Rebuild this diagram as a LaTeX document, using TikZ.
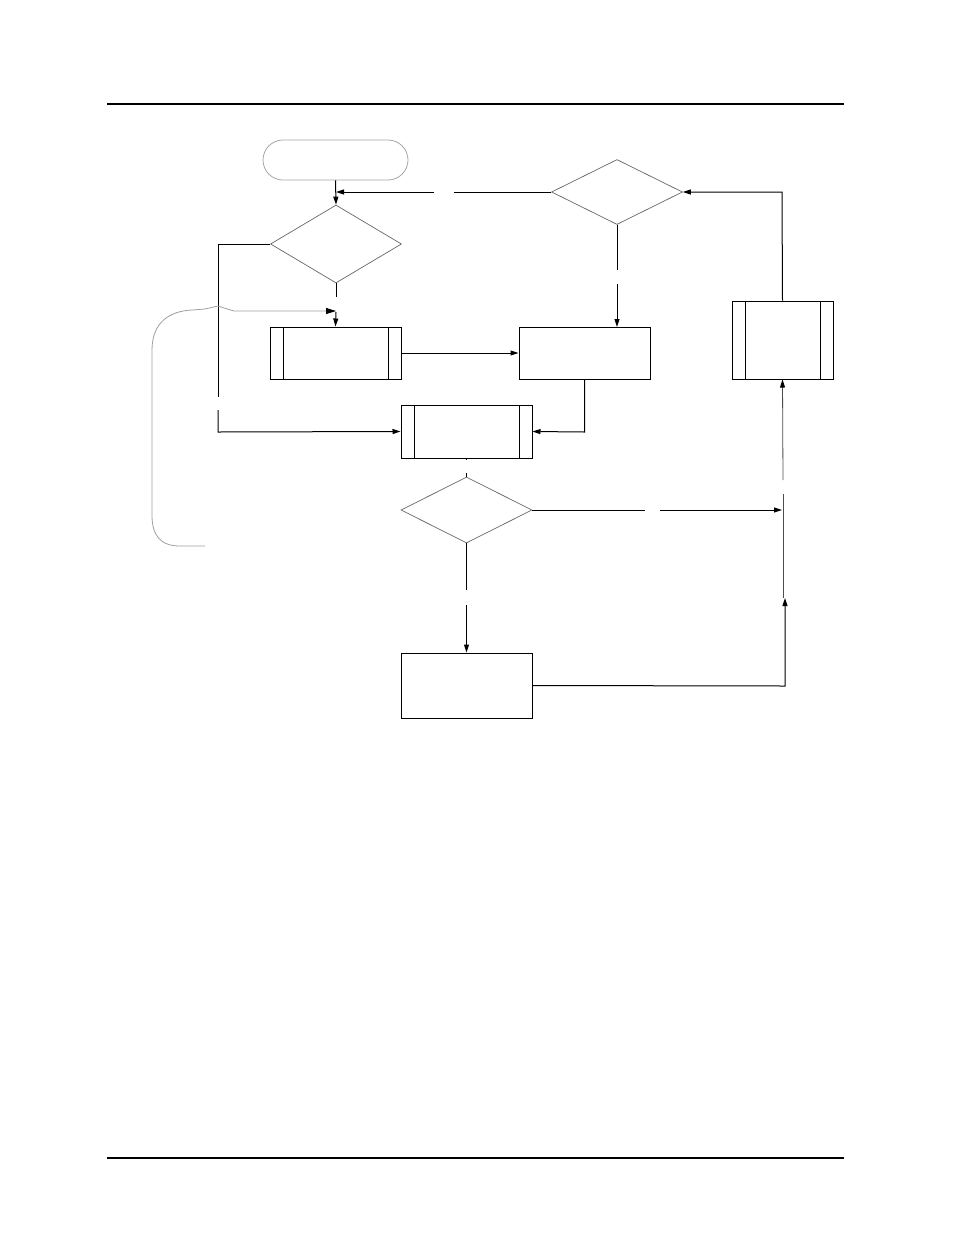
\documentclass[tikz,border=0pt]{standalone}
\usetikzlibrary{shapes.geometric,arrows.meta,calc}
\begin{document}
\begin{tikzpicture}[x=1pt,y=-1pt,
  ln/.style={line width=1pt,black},
  arr/.style={ln,-{Triangle[length=8pt,width=5pt]}},
  termbox/.style={draw=gray!70,line width=0.8pt,rounded corners=20pt,minimum width=145pt,minimum height=40pt,inner sep=0pt},
  procbox/.style={draw,line width=1pt,minimum width=131pt,inner sep=0pt},
  predbox/.style={procbox,path picture={
     \draw[line width=1pt] ([xshift=13pt]path picture bounding box.north west) -- ([xshift=13pt]path picture bounding box.south west);
     \draw[line width=1pt] ([xshift=-13pt]path picture bounding box.north east) -- ([xshift=-13pt]path picture bounding box.south east);}},
  decbox/.style={diamond,draw=gray!80!black,line width=0.7pt,minimum width=131pt,inner sep=0pt},
  bracepath/.style={draw=gray!75,line width=0.8pt}
]
\useasboundingbox (0,0) rectangle (954,1235);
% page rules
\draw[line width=1.3pt] (107,104) coordinate (r1a) -- (844,104) coordinate (r1b);
\draw[line width=1.3pt] (107,1158) coordinate (r2a) -- (844,1158) coordinate (r2b);

% nodes
\node[termbox] (term) at (335.5,160) {};
\node[decbox,minimum height=78pt] (d1) at (336,244) {};
\node[predbox,minimum height=52pt] (b1) at (335.5,353) {};
\node[procbox,minimum height=52pt] (b2) at (584.5,353) {};
\node[decbox,minimum height=65pt] (d2) at (617,192) {};
\node[predbox,minimum width=101pt,minimum height=78pt] (b4) at (782.5,340) {};
\node[predbox,minimum height=53pt] (b3) at (466.5,431.5) {};
\node[decbox,minimum height=66pt] (d3) at (466.5,510) {};
\node[procbox,minimum height=65pt] (b5) at (466.5,685.5) {};

% helper coordinates
\coordinate (ga) at (454,192);
\coordinate (gb) at (434,192);
\coordinate (gj) at (336,192);
\coordinate (lc1) at (218,244);
\coordinate (lc2) at (218,397);
\coordinate (lc3) at (218,410);
\coordinate (lc4) at (218,432);
\coordinate (dv1) at (336,297);
\coordinate (dv2) at (336,312);
\coordinate (rv1) at (617,270);
\coordinate (rv2) at (617,284);
\coordinate (rv3) at (617,327);
\coordinate (tc) at (782,192);
\coordinate (bc) at (584.5,432);
\coordinate (mv1) at (466.5,460);
\coordinate (mv2) at (466.5,473);
\coordinate (hg1) at (645,510);
\coordinate (hg2) at (660,510);
\coordinate (hg3) at (782,510);
\coordinate (lv1) at (466.5,590);
\coordinate (lv2) at (466.5,605);
\coordinate (bk1) at (785,686);
\coordinate (bk2) at (785,598);
\coordinate (gv1) at (783,598);
\coordinate (gv2) at (783,494);
\coordinate (gv3) at (783,480);

% connectors
\draw[arr] (term.south) -- (d1.north);
\draw[ln] (d2.west) -- (ga);
\draw[arr] (gb) -- (gj);
\draw[ln] (d1.west) -- (lc1) -- (lc2);
\draw[arr] (lc3) -- (lc4) -- (b3.west);
\draw[ln] (d1.south) -- (dv1);
\draw[arr] (dv2) -- (b1.north);
\draw[arr] (b1.east) -- (b2.west);
\draw[ln] (d2.south) -- (rv1);
\draw[arr] (rv2) -- (rv3);
\draw[arr] (b4.north) -- (tc) -- (d2.east);
\draw[arr] (b2.south) -- (bc) -- (b3.east);
\draw[ln] (b3.south) -- (mv1);
\draw[ln] (mv2) -- (d3.north);
\draw[ln] (d3.east) -- (hg1);
\draw[arr] (hg2) -- (hg3);
\draw[ln] (d3.south) -- (lv1);
\draw[arr] (lv2) -- (b5.north);
\draw[arr] (b5.east) -- (bk1) -- (bk2);
\draw[line width=0.8pt,gray!60!black] (gv1) -- (gv2);
\draw[line width=0.8pt,gray!60!black,-{Triangle[length=8pt,width=5pt,color=black]}] (gv3) -- (b4.south);

% brace-shaped pointer
\draw[bracepath,-{Triangle[length=10pt,width=6pt,color=black]}]
  (205,546) -- (180,546) .. controls (160,546) and (152,535) .. (152,515)
  -- (152,350) .. controls (152,322) and (170,311) .. (192,310)
  -- (205,309) .. controls (212,308) .. (218,306)
  .. controls (224,308) .. (234,311) -- (336,311);
\end{tikzpicture}
\end{document}
